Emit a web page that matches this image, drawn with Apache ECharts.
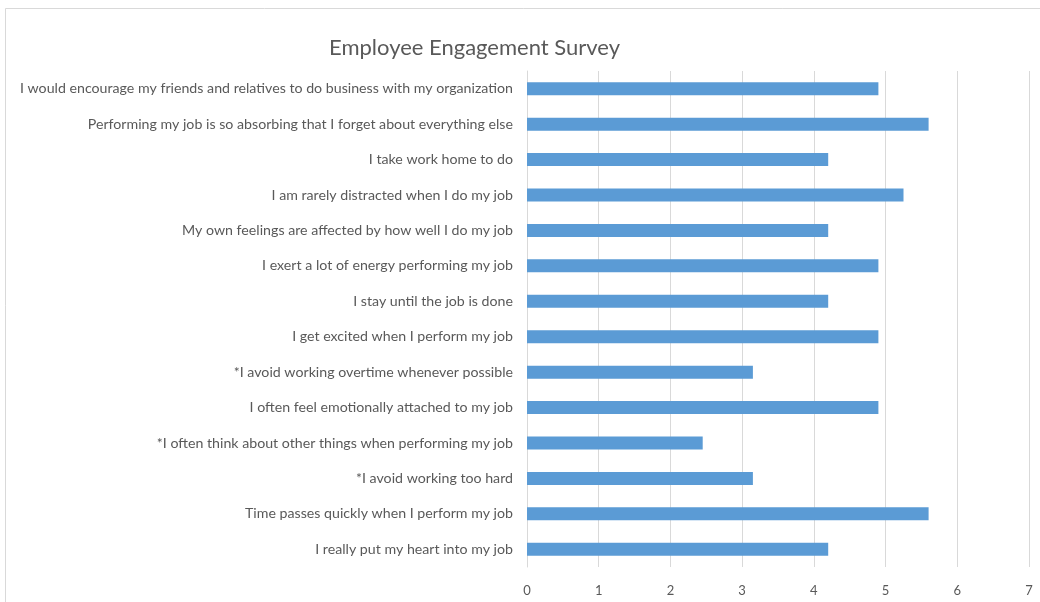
<!DOCTYPE html>
<html>
<head>
<meta charset="utf-8">
<script src="https://cdn.jsdelivr.net/npm/echarts@6/dist/echarts.min.js"></script>
<style>
  html, body { margin: 0; padding: 0; background: #ffffff; }
  #chart { width: 1040px; height: 602px; }
</style>
</head>
<body>
<div id="chart"></div>
<script>
// Survey statements, listed bottom to top as the category axis draws them
const statements = [
  'I really put my heart into my job',
  'Time passes quickly when I perform my job',
  '*I avoid working too hard',
  '*I often think about other things when performing my job',
  'I often feel emotionally attached to my job',
  '*I avoid working overtime whenever possible',
  'I get excited when I perform my job',
  'I stay until the job is done',
  'I exert a lot of energy performing my job',
  'My own feelings are affected by how well I do my job',
  'I am rarely distracted when I do my job',
  'I take work home to do',
  'Performing my job is so absorbing that I forget about everything else',
  'I would encourage my friends and relatives to do business with my organization'
];

// Mean score per statement
const scores = [4.2, 5.6, 3.15, 2.45, 4.9, 3.15, 4.9, 4.2, 4.9, 4.2, 5.25, 4.2, 5.6, 4.9];

// Value axis ticks
const scoreTicks = [0, 1, 2, 3, 4, 5, 6, 7];

const chart = echarts.init(document.getElementById('chart'), null, { renderer: 'canvas' });

const fontFamily = 'Lato, "Open Sans", sans-serif';

chart.setOption({
  backgroundColor: '#ffffff',
  animation: false,
  title: {
    text: 'Employee Engagement Survey',
    left: 324,
    top: 32,
    textStyle: { fontFamily: fontFamily, fontSize: 22, fontWeight: 'normal', color: '#595959' }
  },
  graphic: [{
    type: 'rect',
    shape: { x: 5.5, y: 8.5, width: 1100, height: 700 },
    style: { fill: 'none', stroke: '#d9d9d9', lineWidth: 1 },
    silent: true,
    z: -1
  }],
  grid: { left: 527, right: 11, top: 71, bottom: 35, containLabel: false },
  xAxis: {
    type: 'value',
    min: scoreTicks[0],
    max: scoreTicks[scoreTicks.length - 1],
    interval: 1,
    axisLine: { show: false },
    axisTick: { show: false },
    axisLabel: { color: '#595959', fontFamily: fontFamily, fontSize: 13, margin: 17 },
    splitLine: { show: true, lineStyle: { color: '#d9d9d9', width: 1 } }
  },
  yAxis: {
    type: 'category',
    data: statements,
    axisLine: { show: true, lineStyle: { color: '#d9d9d9', width: 1 } },
    axisTick: { show: false },
    axisLabel: { color: '#595959', fontFamily: fontFamily, fontSize: 14.2, margin: 14 },
    splitLine: { show: false }
  },
  series: [{
    type: 'bar',
    data: scores,
    barWidth: 13,
    itemStyle: { color: '#5b9bd5' }
  }]
});
</script>
</body>
</html>
